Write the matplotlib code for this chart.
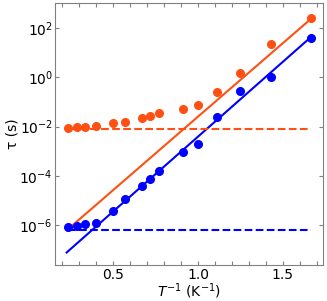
import numpy as np
import matplotlib.pyplot as plt
from matplotlib.ticker import MultipleLocator

# inverse temperature (1/K)
inv_T = [0.235, 0.286, 0.333, 0.400, 0.500, 0.571, 0.667, 0.714, 0.769,
         0.909, 1.000, 1.111, 1.250, 1.429, 1.667]

# log10 of relaxation times (s)
log_tau_orange = [-2.05, -2.03, -2.00, -1.96, -1.87, -1.80, -1.66, -1.58, -1.46,
                  -1.28, -1.12, -0.59, 0.17, 1.34, 2.39]
log_tau_blue = [-6.07, -6.04, -5.96, -5.89, -5.43, -4.95, -4.41, -4.14, -3.82,
                -3.04, -2.69, -1.60, -0.57, 0.02, 1.58]

# Arrhenius fits: log10(tau) = a + b / T
fit_x = [0.225, 1.667]
fit_orange = (-7.54, 5.94)
fit_blue = (-8.46, 6.05)

# constant (quantum tunnelling) levels
tau_qt_orange = 8.3e-3
tau_qt_blue = 6.3e-7

c_orange = '#ff5014'
c_blue = '#0000ff'

plt.rcParams['font.size'] = 10
fig = plt.figure(figsize=(3.27, 3.01), dpi=100)
ax = fig.add_axes([0.168, 0.120, 0.821, 0.870])

xf = np.array(fit_x)
ax.plot(xf, 10 ** (fit_orange[0] + fit_orange[1] * xf), color=c_orange, lw=1.5)
ax.plot(xf, 10 ** (fit_blue[0] + fit_blue[1] * xf), color=c_blue, lw=1.5)
ax.plot([inv_T[0], inv_T[-1]], [tau_qt_orange] * 2, '--', color=c_orange, lw=1.5)
ax.plot([inv_T[0], inv_T[-1]], [tau_qt_blue] * 2, '--', color=c_blue, lw=1.5)
ax.plot(inv_T, 10 ** np.array(log_tau_orange), 'o', color=c_orange, ms=5.5)
ax.plot(inv_T, 10 ** np.array(log_tau_blue), 'o', color=c_blue, ms=5.5)

ax.set_yscale('log')
ax.set_xlim(0.156, 1.74)
ax.set_ylim(10 ** -7.6, 10 ** 3.0)
ax.set_yticks([1e-6, 1e-4, 1e-2, 1e0, 1e2])
ax.yaxis.set_minor_locator(plt.NullLocator())
ax.xaxis.set_major_locator(MultipleLocator(0.5))
ax.xaxis.set_minor_locator(MultipleLocator(0.1))

for s in ax.spines.values():
    s.set_color('gray')
ax.tick_params(which='both', direction='in', top=True, right=True,
               length=3, width=0.8, color='gray')
ax.tick_params(axis='y', pad=1.5)
ax.tick_params(axis='x', pad=2)

ax.set_xlabel('$T^{-1}$ (K$^{-1}$)', labelpad=0)
ax.set_ylabel('τ (s)', labelpad=0)

fig.savefig('out.png')
